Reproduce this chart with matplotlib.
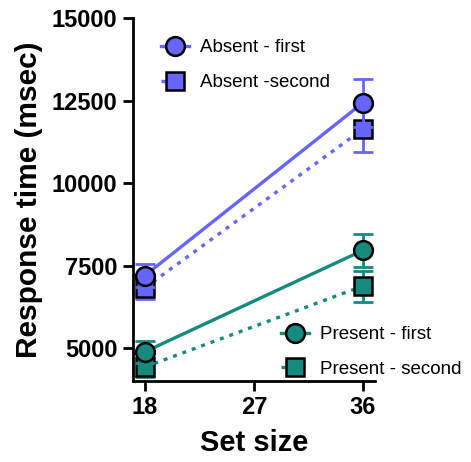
import matplotlib
matplotlib.use("Agg")
import matplotlib.pyplot as plt
from matplotlib.lines import Line2D

# Data
set_sizes = [18, 36]

absent_first = [7200, 12430]
absent_first_err = [360, 730]
absent_second = [6830, 11630]
absent_second_err = [350, 700]

present_first = [4890, 7960]
present_first_err = [330, 510]
present_second = [4430, 6880]
present_second_err = [300, 470]

x_ticks = [18, 27, 36]
y_ticks = [5000, 7500, 10000, 12500, 15000]

BLUE = "#6666ff"
TEAL = "#178a80"

plt.rcParams["font.family"] = ["Liberation Sans", "DejaVu Sans"]

fig = plt.figure(figsize=(4.71, 4.62), dpi=100)
ax = fig.add_axes([0.282, 0.175, 0.514, 0.786])


def draw(y, err, color, marker, ls, z):
    ax.errorbar(set_sizes, y, yerr=err, color=color, linestyle="none",
                elinewidth=2, capsize=7, capthick=2, zorder=z)
    ax.plot(set_sizes, y, color=color, linestyle=ls, linewidth=2.4,
            marker=marker, markersize=13.5 if marker == "o" else 12.5,
            markerfacecolor=color, markeredgecolor="black",
            markeredgewidth=1.8, zorder=z + 1)


dotted = (0, (1.2, 1.8))
draw(absent_second, absent_second_err, BLUE, "s", dotted, 2)
draw(absent_first, absent_first_err, BLUE, "o", "-", 4)
draw(present_second, present_second_err, TEAL, "s", dotted, 2)
draw(present_first, present_first_err, TEAL, "o", "-", 4)

ax.set_xlim(17, 37)
ax.set_ylim(4000, 15000)
ax.set_xticks(x_ticks)
ax.set_yticks(y_ticks)
ax.set_xticklabels([str(t) for t in x_ticks], fontweight="bold", fontsize=17)
ax.set_yticklabels([str(t) for t in y_ticks], fontweight="bold", fontsize=17)
ax.tick_params(width=2, length=7, pad=4)

for side in ["top", "right"]:
    ax.spines[side].set_visible(False)
for side in ["left", "bottom"]:
    ax.spines[side].set_linewidth(2)

ax.set_xlabel("Set size", fontsize=21, fontweight="bold", labelpad=7)
ax.set_ylabel("Response time (msec)", fontsize=21.5, fontweight="bold", labelpad=6)


def handle(color, marker, ls):
    return Line2D([], [], color=color, linestyle=ls, linewidth=2.4,
                  marker=marker, markersize=13.5 if marker == "o" else 12.5,
                  markerfacecolor=color, markeredgecolor="black",
                  markeredgewidth=1.8)


leg1 = ax.legend([handle(BLUE, "o", "-"), handle(BLUE, "s", dotted)],
                 ["Absent - first", "Absent -second"],
                 loc="upper left", bbox_to_anchor=(0.085, 0.962), frameon=False,
                 fontsize=13.5, handlelength=1.5, handletextpad=0.6,
                 labelspacing=0.95, borderaxespad=0)
ax.add_artist(leg1)
ax.legend([handle(TEAL, "o", "-"), handle(TEAL, "s", dotted)],
          ["Present - first", "Present - second"],
          loc="lower left", bbox_to_anchor=(0.58, -0.012), frameon=False,
          fontsize=13.5, handlelength=1.5, handletextpad=0.6,
          labelspacing=0.95, borderaxespad=0)

fig.savefig("out.png", dpi=100)
